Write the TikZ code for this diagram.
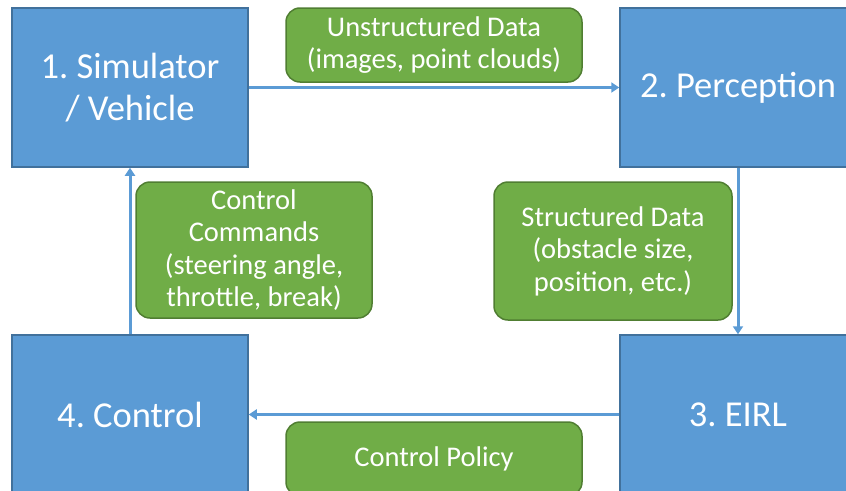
\documentclass[tikz,border=0pt]{standalone}
\usepackage{fontspec}
\setmainfont{Carlito}
\usetikzlibrary{arrows.meta}
\frenchspacing

\definecolor{stageblue}{HTML}{5B9BD5}
\definecolor{stageedge}{HTML}{41719C}
\definecolor{taggreen}{HTML}{70AD47}
\definecolor{tagedge}{HTML}{507E32}

\begin{document}
\begin{tikzpicture}[>={Triangle[length=8pt,width=10pt]}, x=1pt, y=-1pt,
  stage/.style={draw=stageedge, line width=1.5pt, fill=stageblue, text=white,
    minimum width=236pt, minimum height=159pt, inner sep=0pt, align=center,
    font=\fontsize{36.5}{42}\selectfont},
  tag/.style={draw=tagedge, line width=1.5pt, fill=taggreen, text=white,
    rounded corners=14pt, inner sep=0pt, align=center,
    font=\fontsize{28.5}{32.5}\selectfont},
  flow/.style={->, stageblue, line width=3pt}]
  %--- page size (picture coordinates follow the image, y downwards)
  \def\W{846}
  \def\H{490}
  \useasboundingbox (0,0) rectangle (\W,\H);
  \clip (0,0) rectangle (\W,\H);

  %--- the four stages
  \node[stage] (sim)  at (130,87.5)  {1. Simulator\\/ Vehicle};
  \node[stage] (perc) at (738,87.5)  {2. Perception};
  \node[stage] (eirl) at (738,414.5) {3. EIRL};
  \node[stage] (ctrl) at (130,414.5) {4. Control};

  %--- loop of arrows
  \draw[flow] (sim)  -- (perc);
  \draw[flow] (perc) -- (eirl);
  \draw[flow] (eirl) -- (ctrl);
  \draw[flow] (ctrl) -- (sim);

  %--- data labels on the arrows
  \node[tag, minimum width=296pt, minimum height=74pt] (raw) at (434,45)
    {Unstructured Data\\(images, point clouds)};
  \node[tag, minimum width=238pt, minimum height=138pt] (objs) at (613,251)
    {Structured Data\\(obstacle size,\\position, etc.)};
  \node[tag, minimum width=296pt, minimum height=74pt] (pol) at (434,459)
    {Control Policy};
  \node[tag, minimum width=236pt, minimum height=136pt] (cmds) at (254,250)
    {Control\\Commands\\(steering angle,\\throttle, break)};
\end{tikzpicture}
\end{document}
